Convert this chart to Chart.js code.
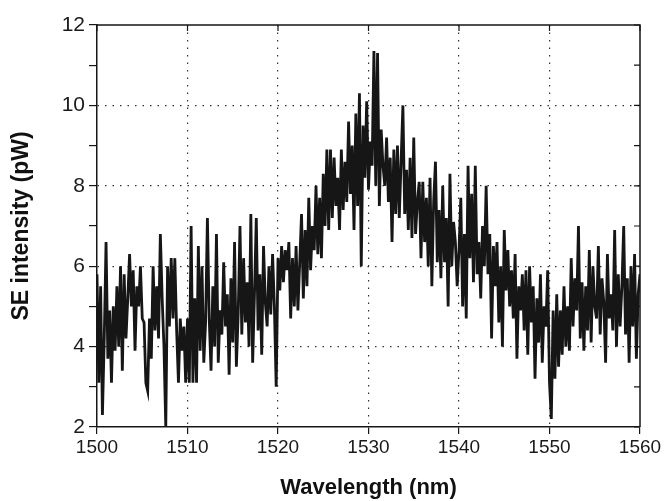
<!DOCTYPE html>
<html>
<head>
<meta charset="utf-8">
<script src="https://cdn.jsdelivr.net/npm/chart.js@4/dist/chart.umd.min.js"></script>
<style>
	html, body { margin: 0; padding: 0; background: #fff; }
	#plot { width: 664px; height: 501px; }
</style>
</head>
<body>
<div id="plot"><canvas id="c" width="664" height="501"></canvas></div>
<script>
// wavelength grid (nm): first sample and spacing
const wlStart = 1500;
const wlStep = 0.2;

// SE intensity (pW), one row = 2 nm
const seIntensity = [
	5.8, 3.1, 5.5, 2.3, 4.2, 6.6, 3.7, 4.9, 3.1, 5.0,
	3.9, 5.5, 4.0, 6.0, 3.4, 5.8, 4.2, 5.2, 6.3, 5.0,
	5.9, 3.9, 5.5, 5.0, 6.0, 4.7, 4.6, 3.1, 2.9, 4.7,
	3.7, 6.0, 4.4, 5.5, 4.2, 6.8, 5.2, 4.0, 2.0, 6.0,
	4.5, 6.2, 4.7, 6.2, 4.4, 3.1, 4.7, 3.9, 4.5, 3.1,
	4.7, 3.1, 7.0, 3.1, 5.2, 3.1, 6.5, 3.9, 6.0, 3.6,
	4.6, 7.2, 4.7, 3.4, 5.5, 4.0, 6.8, 3.6, 4.9, 4.3,
	6.1, 4.5, 5.3, 3.3, 5.7, 4.1, 6.6, 3.5, 4.8, 7.0,
	4.3, 6.2, 4.6, 5.6, 4.0, 7.3, 3.6, 5.3, 7.2, 4.4,
	5.8, 3.8, 6.5, 5.1, 4.5, 6.0, 4.8, 6.3, 5.0, 3.0,
	6.2, 5.4, 6.5, 5.6, 6.4, 5.9, 6.6, 4.7, 6.2, 5.0,
	6.5, 4.9, 6.1, 7.3, 5.2, 6.9, 5.5, 7.7, 5.9, 7.0,
	6.4, 8.0, 6.3, 7.7, 6.2, 8.3, 7.0, 8.9, 6.9, 8.9,
	7.2, 8.7, 7.5, 8.2, 6.9, 8.9, 7.4, 8.6, 7.6, 9.6,
	7.8, 9.0, 6.9, 9.8, 7.5, 10.3, 6.0, 9.5, 8.2, 10.1,
	7.9, 9.1, 8.5, 11.35, 8.0, 11.3, 7.5, 9.4, 8.5, 8.0,
	9.2, 7.6, 8.7, 6.6, 8.9, 7.3, 9.0, 7.2, 8.6, 10.0,
	7.3, 8.4, 6.9, 8.7, 6.7, 9.2, 6.8, 7.6, 8.1, 6.2,
	8.1, 6.6, 7.7, 6.0, 8.2, 5.5, 7.6, 8.6, 6.1, 7.4,
	5.7, 8.0, 6.1, 7.2, 5.0, 8.3, 6.0, 7.1, 6.6, 5.5,
	6.4, 7.7, 5.0, 6.8, 4.7, 8.5, 6.2, 7.8, 5.6, 8.5,
	5.8, 6.6, 5.2, 7.0, 6.0, 8.0, 5.8, 6.8, 4.2, 6.5,
	5.5, 6.6, 4.6, 6.0, 4.0, 6.9, 5.4, 6.4, 5.0, 5.9,
	4.7, 6.3, 3.7, 5.5, 4.9, 5.8, 4.4, 5.9, 3.8, 6.0,
	4.6, 5.5, 3.2, 5.2, 4.1, 5.8, 3.6, 5.0, 4.5, 5.9,
	3.1, 2.2, 4.9, 3.2, 5.3, 3.5, 4.9, 3.8, 5.5, 4.0,
	5.0, 3.9, 6.2, 4.5, 5.7, 4.9, 7.0, 4.2, 5.6, 3.9,
	5.5, 4.4, 6.4, 4.1, 6.0, 5.0, 4.7, 6.5, 4.3, 5.7,
	5.1, 3.6, 6.3, 4.7, 5.3, 4.4, 6.9, 4.0, 5.8, 4.5,
	5.5, 7.0, 4.3, 5.7, 3.6, 6.0, 4.5, 6.3, 3.7, 5.3,
	5.8,
];

const xMajor = [1500, 1510, 1520, 1530, 1540, 1550, 1560];
const yMajor = [2, 4, 6, 8, 10, 12];

const points = seIntensity.map((y, i) => ({x: +(wlStart + i*wlStep).toFixed(1), y}));

const ink = '#161616';
const dotted = '#333';
const family = 'Liberation Sans, Arial, sans-serif';

const isMajor = (list, v) => list.some((m) => Math.abs(m - v) < 1e-6);

// top/right frame with inward ticks
const framePlugin = {
	id: 'frame',
	afterDraw(chart) {
		const {ctx, chartArea: a, scales} = chart;
		ctx.save();
		ctx.strokeStyle = ink;
		ctx.lineWidth = 1.5;
		ctx.beginPath();
		ctx.moveTo(a.left, a.top);
		ctx.lineTo(a.right, a.top);
		ctx.lineTo(a.right, a.bottom);
		ctx.stroke();
		ctx.lineWidth = 1.2;
		ctx.beginPath();
		scales.x.ticks.forEach((t) => {
			const px = scales.x.getPixelForValue(t.value);
			ctx.moveTo(px, a.top);
			ctx.lineTo(px, a.top + 6);
		});
		scales.y.ticks.forEach((t) => {
			const py = scales.y.getPixelForValue(t.value);
			ctx.moveTo(a.right, py);
			ctx.lineTo(a.right - 6, py);
		});
		ctx.stroke();
		ctx.restore();
	}
};

const ctx = document.getElementById('c').getContext('2d');
const chart = new Chart(ctx, {
	type: 'scatter',
	data: {
		datasets: [{
			data: points,
			showLine: true,
			borderColor: ink,
			borderWidth: 2.8,
			pointRadius: 0,
			tension: 0,
		}]
	},
	options: {
		responsive: false,
		animation: false,
		devicePixelRatio: 1,
		layout: {padding: {top: 25, right: 24, left: 0, bottom: 0}},
		plugins: {legend: {display: false}, tooltip: {enabled: false}},
		scales: {
			x: {
				type: 'linear',
				min: 1500,
				max: 1560,
				afterFit: (s) => { s.height = 74; },
				ticks: {
					stepSize: 5,
					padding: 2,
					color: '#1a1a1a',
					font: {family, size: 19},
					maxRotation: 0,
					callback: (v) => isMajor(xMajor, v) ? String(v) : '',
				},
				grid: {
					color: (c) => (c.tick && isMajor(xMajor, c.tick.value) && c.tick.value > 1500 && c.tick.value < 1560) ? dotted : 'rgba(0,0,0,0)',
					lineWidth: 1.2,
					tickColor: ink,
					tickLength: 7,
					tickWidth: 1.2,
				},
				border: {display: true, color: ink, width: 1.5, dash: [1.5, 6]},
				title: {
					display: true,
					text: 'Wavelength (nm)',
					color: '#111',
					font: {family, size: 22, weight: 'bold'},
					padding: {top: 0, bottom: 0},
				},
			},
			y: {
				min: 2,
				max: 12,
				afterFit: (s) => { s.width = 97; },
				ticks: {
					stepSize: 1,
					padding: 4,
					color: '#1a1a1a',
					font: {family, size: 21},
					callback: (v) => isMajor(yMajor, v) ? String(v) : '',
				},
				grid: {
					color: (c) => (c.tick && isMajor(yMajor, c.tick.value) && c.tick.value > 2 && c.tick.value < 12) ? dotted : 'rgba(0,0,0,0)',
					lineWidth: 1.2,
					tickColor: ink,
					tickLength: 8,
					tickWidth: 1.2,
				},
				border: {display: true, color: ink, width: 1.5, dash: [1.5, 6]},
				title: {
					display: true,
					text: 'SE intensity (pW)',
					color: '#111',
					font: {family, size: 23, weight: 'bold'},
					padding: {top: 8, bottom: 0},
				},
			},
		},
	},
	plugins: [framePlugin],
});
</script>
</body>
</html>
